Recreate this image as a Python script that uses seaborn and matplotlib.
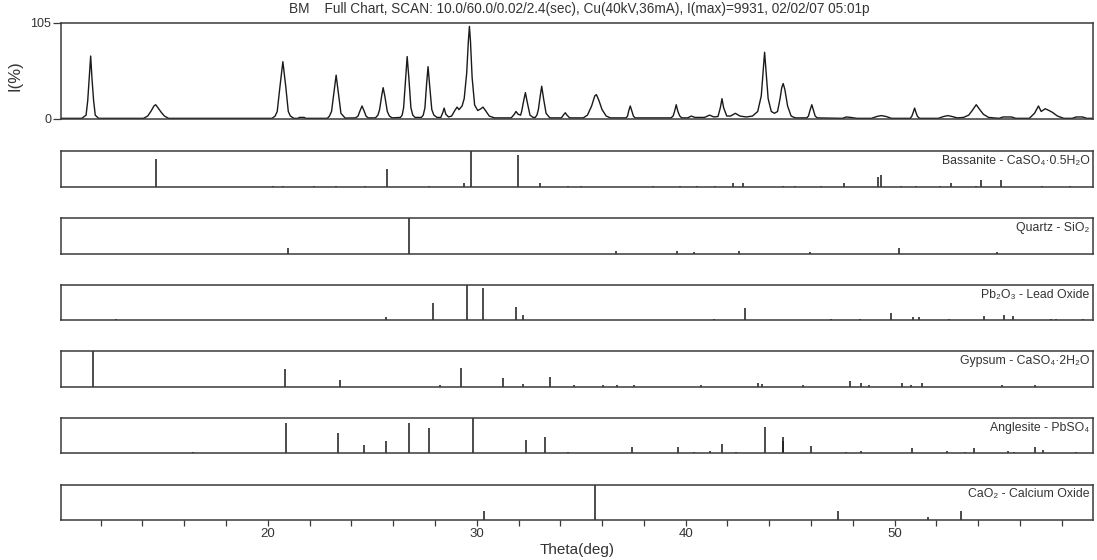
import matplotlib
matplotlib.use("Agg")
import matplotlib.pyplot as plt
import pandas as pd
import seaborn as sns

# ---------------------------------------------------------------------------
# Measured scan: vertices of the trace (2-theta in degrees, relative intensity %)
# ---------------------------------------------------------------------------
scan_trace = [
    (10.1, 0.5), (11.1, 0.5), (11.3, 4), (11.38, 20), (11.45, 45), (11.52, 68.6), (11.58, 45),
    (11.66, 20), (11.74, 4), (11.9, 0.5),
    (14.05, 0.5), (14.25, 3), (14.4, 8), (14.55, 14), (14.63, 15.4), (14.68, 14), (14.9, 7),
    (15.05, 3), (15.25, 0.5),
    (20.2, 0.5), (20.35, 3), (20.45, 8), (20.58, 35), (20.72, 62.4), (20.86, 35), (20.98, 8),
    (21.08, 3), (21.25, 0.5),
    (21.45, 0.5), (21.5, 1.5), (21.75, 1.5), (21.8, 0.5),
    (22.85, 0.5), (22.95, 3), (23.05, 8), (23.16, 28), (23.27, 47.7), (23.38, 28), (23.5, 6),
    (23.7, 0.8),
    (24.2, 1), (24.32, 3), (24.4, 8), (24.51, 14), (24.62, 8), (24.7, 3), (24.8, 1),
    (25.15, 1), (25.27, 4), (25.35, 10), (25.45, 25), (25.52, 34), (25.6, 25), (25.72, 8),
    (25.82, 3), (25.95, 1),
    (26.35, 1.5), (26.43, 4), (26.5, 12), (26.6, 45), (26.67, 68), (26.75, 45), (26.85, 12),
    (26.94, 4), (27.05, 1.5),
    (27.35, 1.5), (27.44, 4), (27.52, 12), (27.6, 38), (27.67, 57), (27.74, 38), (27.85, 10),
    (27.95, 4), (28.1, 1.5),
    (28.28, 1.5), (28.38, 7), (28.44, 11.7), (28.52, 5), (28.65, 2),
    (28.8, 3), (28.95, 9), (29.06, 12.8), (29.15, 10), (29.3, 14),
    (29.4, 22), (29.52, 50), (29.6, 85), (29.65, 101), (29.7, 85), (29.78, 45), (29.9, 15),
    (30.05, 9), (30.2, 11), (30.3, 12.8), (30.42, 9), (30.6, 3), (30.85, 1),
    (31.65, 1), (31.8, 5), (31.88, 8), (31.98, 5), (32.1, 4),
    (32.15, 8), (32.25, 20), (32.33, 28.6), (32.42, 18), (32.55, 4), (32.7, 1.5),
    (32.8, 1.5), (32.88, 4), (32.95, 10), (33.04, 25), (33.11, 35.6), (33.2, 22), (33.32, 6),
    (33.5, 1),
    (34.05, 1), (34.18, 5), (34.24, 6.6), (34.32, 4), (34.45, 1),
    (35.1, 1), (35.3, 4), (35.5, 14), (35.65, 25), (35.73, 26.4), (35.85, 20), (36.0, 10),
    (36.2, 3), (36.4, 1),
    (37.15, 1), (37.22, 3), (37.28, 9), (37.35, 14), (37.42, 9), (37.5, 3), (37.58, 1),
    (39.3, 1), (39.4, 3), (39.47, 8), (39.55, 15.4), (39.63, 8), (39.72, 3), (39.82, 1),
    (40.1, 1), (40.27, 3), (40.45, 1.5),
    (40.9, 1.5), (41.15, 4), (41.35, 2),
    (41.55, 2.5), (41.66, 12), (41.74, 22), (41.82, 12), (41.97, 3),
    (42.15, 3), (42.38, 6), (42.6, 3), (42.9, 2),
    (43.2, 3), (43.45, 8), (43.62, 25), (43.72, 55), (43.78, 72.7), (43.84, 55), (43.95, 22),
    (44.1, 8), (44.25, 6),
    (44.4, 8), (44.52, 22), (44.6, 34), (44.67, 38.5), (44.75, 32), (44.88, 14), (45.05, 3),
    (45.25, 1),
    (45.8, 1), (45.88, 3), (45.95, 9), (46.04, 15.4), (46.12, 9), (46.2, 3), (46.3, 1),
    (47.5, 0.5), (47.7, 2), (47.9, 1.5), (48.2, 0.5),
    (48.9, 0.5), (49.15, 2.5), (49.36, 3.5), (49.6, 2.5), (49.85, 0.5),
    (50.75, 0.5), (50.82, 2.5), (50.88, 6), (50.96, 11.7), (51.04, 6), (51.1, 2.5), (51.2, 0.5),
    (52.1, 0.5), (52.35, 2.5), (52.55, 3.5), (52.75, 2.5), (53.0, 1),
    (53.3, 1.5), (53.55, 4), (53.75, 10), (53.91, 15.4), (54.05, 11), (54.25, 5), (54.5, 1.5),
    (55.0, 0.5), (55.2, 2), (55.6, 2), (55.8, 0.5),
    (56.45, 0.5), (56.7, 6), (56.89, 14), (57.02, 8), (57.21, 11), (57.4, 9), (57.56, 7),
    (57.8, 3), (58.1, 0.5),
    (58.5, 0.5), (58.7, 2), (59.0, 2), (59.2, 0.5), (59.5, 0.5),
]

# ---------------------------------------------------------------------------
# Reference stick patterns (2-theta, relative intensity %)
# ---------------------------------------------------------------------------
bassanite_theta = [14.66, 20.27, 20.74, 22.22, 23.25, 24.66, 25.72, 27.72, 29.39, 29.74,
                   31.98, 33.05, 34.35, 34.97, 38.45, 39.72, 40.53, 41.40, 42.26, 42.73,
                   44.68, 45.25, 46.48, 47.59, 49.22, 49.34, 50.29, 51.01, 52.19, 52.69,
                   53.88, 54.15, 55.09, 57.08, 58.39]
bassanite_int = [78, 4, 4, 4, 4, 4, 50, 4, 11, 100,
                 89, 11, 4, 4, 4, 4, 4, 4, 12, 12,
                 4, 4, 4, 10, 29, 33, 4, 4, 4, 10,
                 4, 19, 19, 4, 4]

quartz_theta = [20.95, 26.78, 36.67, 39.59, 40.40, 42.57, 45.93, 50.21, 54.90]
quartz_int = [16, 100, 7, 7, 4, 7, 4, 16, 4]

lead_oxide_theta = [12.71, 25.65, 27.92, 29.55, 30.32, 31.89, 32.21, 41.35, 42.82, 46.95,
                    48.33, 49.81, 50.86, 51.15, 52.62, 54.26, 55.22, 55.65, 57.49, 57.75,
                    59.0]
lead_oxide_int = [4, 8, 49, 100, 91, 36, 15, 4, 33, 4,
                  4, 19, 8, 8, 4, 13, 15, 12, 4, 4,
                  4]

gypsum_theta = [11.61, 20.81, 23.47, 28.26, 29.27, 31.28, 32.21, 33.52, 34.68, 36.03,
                36.73, 37.52, 40.74, 43.48, 43.66, 45.61, 47.89, 48.40, 48.80, 50.35,
                50.81, 51.32, 55.13, 56.73]
gypsum_int = [100, 50, 19, 4, 53, 26, 9, 29, 4, 6,
              4, 4, 5, 10, 8, 4, 15, 12, 4, 12,
              4, 12, 4, 6]

anglesite_theta = [16.41, 20.89, 23.35, 24.59, 25.65, 26.78, 27.72, 29.80, 32.34, 33.28,
                   34.35, 37.44, 39.65, 40.40, 41.16, 41.75, 42.40, 43.81, 44.64, 44.68,
                   46.02, 47.70, 48.41, 50.84, 52.49, 53.37, 53.79, 55.43, 55.72, 56.70,
                   57.13, 58.69]
anglesite_int = [4, 86, 58, 23, 34, 86, 71, 100, 37, 47,
                 4, 19, 19, 4, 8, 26, 4, 74, 34, 46,
                 22, 4, 6, 15, 6, 4, 15, 6, 4, 18,
                 10, 5]

calcium_oxide_theta = [30.33, 35.67, 47.29, 51.62, 53.17]
calcium_oxide_int = [26, 100, 26, 8, 26]

phase_labels = [
    "Bassanite - CaSO\u2084\u00b70.5H\u2082O",
    "Quartz - SiO\u2082",
    "Pb\u2082O\u2083 - Lead Oxide",
    "Gypsum - CaSO\u2084\u00b72H\u2082O",
    "Anglesite - PbSO\u2084",
    "CaO\u2082 - Calcium Oxide",
]
phase_theta = [bassanite_theta, quartz_theta, lead_oxide_theta,
               gypsum_theta, anglesite_theta, calcium_oxide_theta]
phase_int = [bassanite_int, quartz_int, lead_oxide_int,
             gypsum_int, anglesite_int, calcium_oxide_int]

title_text = ("BM    Full Chart, SCAN: 10.0/60.0/0.02/2.4(sec), Cu(40kV,36mA), "
              "I(max)=9931, 02/02/07 05:01p")
major_ticks = [20, 30, 40, 50]
minor_ticks = [12, 14, 16, 18, 22, 24, 26, 28, 32, 34, 36, 38,
               42, 44, 46, 48, 52, 54, 56, 58]

# ---------------------------------------------------------------------------
sns.set_theme(style="white")
plt.rcParams["font.family"] = ["Liberation Sans", "DejaVu Sans"]

W, H = 1097, 560
fig = plt.figure(figsize=(W / 100, H / 100), dpi=100)
fig.patch.set_facecolor("white")

edge = "#3a3a3a"
ink = "#1a1a1a"
text_col = "#333333"
x_lo, x_hi = 10.1, 59.5
left_px, right_px = 61, 1093


def px_axes(top, bottom):
    return fig.add_axes([left_px / W, 1 - bottom / H,
                         (right_px - left_px) / W, (bottom - top) / H])


def style_box(ax):
    for s in ax.spines.values():
        s.set_visible(True)
        s.set_color(edge)
        s.set_linewidth(1.1)


# measured pattern
ax0 = px_axes(22.7, 118.8)
scan_df = pd.DataFrame(scan_trace, columns=["theta", "intensity"])
sns.lineplot(data=scan_df, x="theta", y="intensity", ax=ax0, color=ink,
             linewidth=1.0, sort=False, estimator=None)
ax0.set_xlim(x_lo, x_hi)
ax0.set_ylim(0, 105)
ax0.set_xticks([])
ax0.set_yticks([0, 105])
ax0.set_yticklabels(["0", "105"])
ax0.tick_params(axis="y", length=6, width=0.9, color=edge, labelsize=9,
                labelcolor=text_col, pad=1, left=True)
ax0.set_xlabel("")
ax0.set_ylabel("")
style_box(ax0)
fig.text(15.5 / W, 1 - 76 / H, "I(%)", rotation=90, ha="center", va="center",
         fontsize=12, color=text_col)

# stick panels
panel_top0, panel_step, panel_h = 151.5, 66.6, 35.5
axes = []
for i, (label, th, it) in enumerate(zip(phase_labels, phase_theta, phase_int)):
    top = panel_top0 + i * panel_step
    ax = px_axes(top, top + panel_h)
    ax.vlines(th, 0, it, colors=ink, linewidth=1.1)
    ax.set_xlim(x_lo, x_hi)
    ax.set_ylim(0, 100)
    ax.set_yticks([])
    ax.set_xticks([])
    ax.text(0.9965, 0.72, label, transform=ax.transAxes, ha="right", va="center",
            fontsize=8.8, color=text_col)
    style_box(ax)
    axes.append(ax)

# x axis on the bottom panel
axb = axes[-1]
axb.set_xticks(major_ticks)
axb.set_xticks(minor_ticks, minor=True)
axb.set_xticklabels([str(t) for t in major_ticks])
axb.tick_params(axis="x", which="both", direction="out", length=4, width=0.9,
                color=edge, labelsize=9.5, labelcolor=text_col, pad=2, bottom=True)
axb.set_xlabel("Theta(deg)", fontsize=11, color=text_col, labelpad=2)

fig.text(579 / W, 1 - 9 / H, title_text, ha="center", va="center",
         fontsize=9.8, color=text_col)

fig.savefig("out.png", dpi=100, facecolor="white")
